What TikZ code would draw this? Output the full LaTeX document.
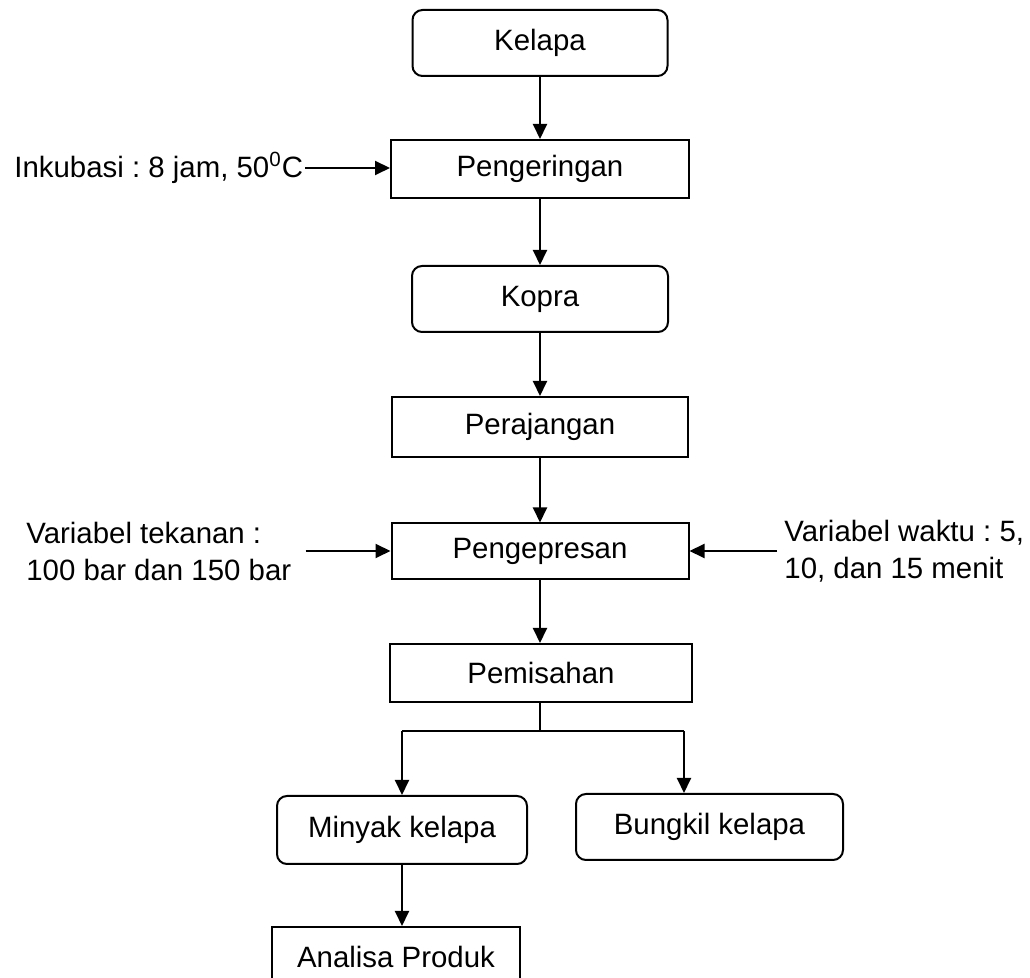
\documentclass[tikz,border=0pt]{standalone}
\usepackage{fontspec}
\setmainfont{Liberation Sans}
\usetikzlibrary{arrows.meta}
\frenchspacing

\tikzstyle{roundbox} = [draw, line width=1pt, rounded corners=5pt, rectangle, inner sep=0pt, font=\fontsize{14.7}{18.5}\selectfont]
\tikzstyle{flatbox} = [draw, line width=1pt, rectangle, inner sep=0pt, font=\fontsize{14.7}{18.5}\selectfont]
\tikzstyle{sidetext} = [inner ysep=0pt, align=left, font=\fontsize{14.7}{18.5}\selectfont]
\tikzstyle{arrow} = [line width=1pt, -{Triangle[length=7.5pt, width=7pt]}]
\tikzstyle{splitline} = [line width=0.7pt]

\begin{document}
\begin{tikzpicture}[x=0.5pt, y=-0.5pt]
	\clip (0,0) rectangle (1030,978);
	\node [roundbox, minimum width=127.5pt, minimum height=33pt] (kelapa) at (540,43) {Kelapa};
	\node [flatbox, minimum width=149pt, minimum height=29pt] (pengeringan) at (540,169) {Pengeringan};
	\node [roundbox, minimum width=128pt, minimum height=33pt] (kopra) at (540,299) {Kopra};
	\node [flatbox, minimum width=148pt, minimum height=30pt] (perajangan) at (540,427) {Perajangan};
	\node [flatbox, minimum width=148.5pt, minimum height=28pt] (pengepresan) at (540,551.5) {Pengepresan};
	\node [flatbox, minimum width=151pt, minimum height=29pt] (pemisahan) at (541,673) {Pemisahan};
	\node [roundbox, minimum width=125pt, minimum height=34pt] (minyak) at (402,830) {Minyak kelapa};
	\node [roundbox, minimum width=133.5pt, minimum height=33pt] (bungkil) at (709.5,827) {Bungkil kelapa};
	\node [flatbox, minimum width=124pt, minimum height=30pt] (analisa) at (396,957) {Analisa Produk};

	\node [sidetext, anchor=west, inner xsep=1pt] (inkubasi) at (12,168) {Inkubasi : 8 jam, 50\textsuperscript{0}C};
	\node [sidetext, anchor=west, inner xsep=7pt] (tekanan) at (12,551) {Variabel tekanan :\\100 bar dan 150 bar};
	\node [sidetext, anchor=west, inner xsep=3.5pt] (waktu) at (777,551) {Variabel waktu : 5,\\10, dan 15 menit};

	\draw [arrow] (kelapa) -- (pengeringan);
	\draw [arrow] (pengeringan) -- (kopra);
	\draw [arrow] (kopra) -- (perajangan);
	\draw [arrow] (perajangan) -- (pengepresan);
	\draw [arrow] (pengepresan) -- (pengepresan.south |- pemisahan.north);
	\draw [arrow] (inkubasi.east) -- (inkubasi.east -| pengeringan.west);
	\draw [arrow] (tekanan.east) -- (tekanan.east -| pengepresan.west);
	\draw [arrow] (waktu.west) -- (waktu.west -| pengepresan.east);

	\coordinate (cabang) at (540,731);
	\coordinate (kiri) at (402,731);
	\coordinate (kanan) at (684,731);
	\draw [splitline] (pemisahan.south -| cabang) -- (cabang);
	\draw [splitline] (kiri) -- (kanan);
	\draw [arrow] (kiri) -- (minyak.north);
	\draw [arrow] (kanan) -- (kanan |- bungkil.north);
	\draw [arrow] (minyak.south) -- (minyak.south |- analisa.north);
\end{tikzpicture}
\end{document}
